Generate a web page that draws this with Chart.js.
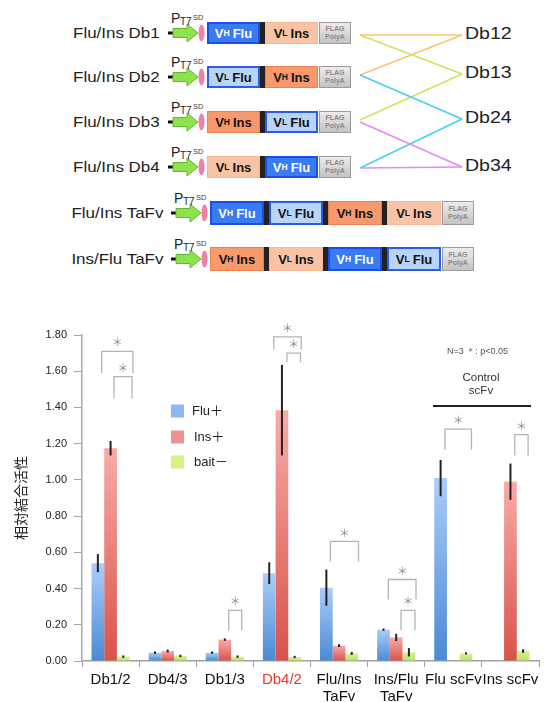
<!DOCTYPE html>
<html><head><meta charset="utf-8">
<script src="https://cdn.jsdelivr.net/npm/chart.js@4.4.1/dist/chart.umd.min.js"></script>
<style>
body{margin:0;background:#fff;}
#page{position:relative;width:547px;height:702px;overflow:hidden;font-family:"Liberation Sans",Arial,sans-serif;background:#fff;}
.abs{position:absolute;white-space:nowrap;}
.rowlbl{font-size:15px;color:#222;line-height:18px;transform:scaleX(1.13);transform-origin:right center;text-align:right;}
.dblbl{font-size:17px;color:#222;line-height:20px;transform:scaleX(1.15);transform-origin:left center;}
.seg{position:absolute;box-sizing:border-box;font-weight:bold;font-size:13px;display:flex;align-items:center;justify-content:center;line-height:1;}
.seg sub{font-size:8.5px;vertical-align:-2px;margin-right:3px;}
.flag{position:absolute;box-sizing:border-box;background:linear-gradient(#ececec,#c4c4c4);border:1.5px solid #9a9a9a;color:#8a8a8a;font-weight:bold;font-size:7px;line-height:8px;text-align:center;display:flex;align-items:center;justify-content:center;}
.note{font-size:9px;color:#555;}
.ctrl{font-size:11.5px;color:#333;text-align:center;line-height:13px;}
</style></head>
<body><div id="page">
<svg id="diag" width="547" height="290" style="position:absolute;left:0;top:0"></svg>
<canvas id="c" width="547" height="402" style="position:absolute;left:0;top:300px"></canvas>
</div>
<script>
// ---------------- chart data ----------------
const categories = ["Db1/2","Db4/3","Db1/3","Db4/2",["Flu/Ins","TaFv"],["Ins/Flu","TaFv"],"Flu scFv","Ins scFv"];
const seriesNames = ["Flu＋","Ins＋","bait－"];
const fluPlus   = [0.54, 0.046, 0.046, 0.485, 0.405, 0.173, 1.01, null];
const insPlus   = [1.175, 0.055, 0.118, 1.385, 0.085, 0.13, null, 0.99];
const baitMinus = [0.024, 0.028, 0.024, 0.022, 0.042, 0.048, 0.042, 0.055];
const fluErr    = [0.05, 0.004, 0.004, 0.06, 0.10, 0.004, 0.10, null];
const insErr    = [0.04, 0.008, 0.003, 0.25, 0.008, 0.02, null, 0.10];
const baitErr   = [0.005, 0.005, 0.004, 0.004, 0.008, 0.023, 0.006, 0.01];
const yMin = 0, yMax = 1.8, yStep = 0.2;
// significance brackets: category, from/to bar slot (0=Flu,1=Ins,2=bait), top & leg-bottom values
const sigBrackets = [
  {cat:0, from:0.30, to:2.76, top:1.71, leg:1.59},
  {cat:0, from:1.27, to:2.69, top:1.57, leg:1.45},
  {cat:2, from:1.31, to:2.33, top:0.28, leg:0.17},
  {cat:3, from:0.36, to:2.52, top:1.79, leg:1.72},
  {cat:3, from:1.39, to:2.46, top:1.70, leg:1.65},
  {cat:4, from:0.32, to:2.53, top:0.66, leg:0.55},
  {cat:5, from:0.38, to:2.56, top:0.45, leg:0.34},
  {cat:5, from:1.38, to:2.48, top:0.28, leg:0.17},
  {cat:6, from:0.34, to:2.43, top:1.28, leg:1.166},
  {cat:7, from:1.34, to:2.39, top:1.25, leg:1.134}
];

// ---------------- construct diagram ----------------
const page = document.getElementById('page');
const svg = document.getElementById('diag');
const NS = 'http://www.w3.org/2000/svg';
function sv(tag, attrs){const e=document.createElementNS(NS,tag);for(const k in attrs)e.setAttribute(k,attrs[k]);svg.appendChild(e);return e;}
function div(cls, html, style){const d=document.createElement('div');d.className=cls;d.innerHTML=html;Object.assign(d.style,style);page.appendChild(d);return d;}

const segStyle = {
  "VH Flu": {bg:"#3a7af2", bd:"2px solid #1b4ee4", fg:"#fff", v:"H", t:"Flu"},
  "VL Flu": {bg:"#b8d4f9", bd:"2px solid #2a5ce8", fg:"#111", v:"L", t:"Flu"},
  "VH Ins": {bg:"#f7996a", bd:"1px solid #ee8050", fg:"#111", v:"H", t:"Ins"},
  "VL Ins": {bg:"#f9c4a6", bd:"1px solid #f6b896", fg:"#111", v:"L", t:"Ins"}
};
const rows = [
  {name:"Flu/Ins Db1",  c:33,  dx:0, w:53, h:22, parts:["VH Flu","VL Ins"]},
  {name:"Flu/Ins Db2",  c:77,  dx:0, w:53, h:22, parts:["VL Flu","VH Ins"]},
  {name:"Flu/Ins Db3",  c:122, dx:0, w:53, h:22, parts:["VH Ins","VL Flu"]},
  {name:"Flu/Ins Db4",  c:167, dx:0, w:53, h:22, parts:["VL Ins","VH Flu"]},
  {name:"Flu/Ins TaFv", c:213, dx:3, w:54, h:24, parts:["VH Flu","VL Flu","VH Ins","VL Ins"]},
  {name:"Ins/Flu TaFv", c:259, dx:3, w:54, h:24, parts:["VH Ins","VL Ins","VH Flu","VL Flu"]}
];
rows.forEach(r=>{
  const c=r.c, d=r.dx;
  div('abs rowlbl', r.name, {right:(547-160-d)+'px', top:(c-9)+'px'});
  // promoter label
  div('abs', 'P', {left:(171+d)+'px', top:(c-23)+'px', fontSize:'14px', color:'#222', lineHeight:'16px'});
  div('abs', 'T7', {left:(180+d)+'px', top:(c-17)+'px', fontSize:'10px', color:'#222', lineHeight:'11px'});
  div('abs', 'SD', {left:(193+d)+'px', top:(c-20)+'px', fontSize:'7.5px', color:'#444', lineHeight:'9px'});
  // dash, arrow, RBS
  sv('rect',{x:168+d,y:c-1.5,width:6,height:3,fill:'#111'});
  sv('polygon',{points:`${173+d},${c-4.5} ${187+d},${c-4.5} ${187+d},${c-9} ${198+d},${c} ${187+d},${c+9} ${187+d},${c+4.5} ${173+d},${c+4.5}`,fill:'#8ee24c',stroke:'#62b832','stroke-width':1});
  sv('ellipse',{cx:201.5+d,cy:c,rx:3,ry:8.5,fill:'#ef80a8'});
  // segments
  let x = 207+d;
  r.parts.forEach((p,i)=>{
    const s=segStyle[p];
    div('seg', `V<sub>${s.v}</sub>${s.t}`, {left:x+'px', top:(c-r.h/2)+'px', width:r.w+'px', height:r.h+'px', background:s.bg, border:s.bd, color:s.fg});
    x += r.w;
    if(i<r.parts.length-1){
      div('abs','',{left:x+'px',top:(c-r.h/2)+'px',width:'5px',height:r.h+'px',background:'#222'});
      x += 5;
    }
  });
  div('flag','FLAG<br>PolyA',{left:(x+1)+'px',top:(c-r.h/2)+'px',width:'32px',height:r.h+'px'});
});
// pairing lines
const Lx=360, Rx=462;
const dbY=[35,74,119,167];
const pairLines = [
  {a:35, b:0, col:'#ffc46e'}, {a:75, b:0, col:'#ffc46e'},
  {a:35, b:1, col:'#cfe45c'}, {a:120, b:1, col:'#cfe45c'},
  {a:75, b:2, col:'#42cff8'}, {a:168, b:2, col:'#42cff8'},
  {a:122, b:3, col:'#e48af4'}, {a:168, b:3, col:'#e48af4'}
];
pairLines.forEach(l=>sv('line',{x1:Lx,y1:l.a,x2:Rx,y2:dbY[l.b],stroke:l.col,'stroke-width':1.6}));
["Db12","Db13","Db24","Db34"].forEach((t,i)=>div('abs dblbl',t,{left:'465px',top:(dbY[i]-11)+'px'}));

// annotations near chart
div('abs note','N=3 ＊: p&lt;0.05',{left:'447px',top:'345px'});
div('abs ctrl','Control<br>scFv',{left:'450px',width:'62px',top:'371px'});
div('abs','',{left:'433px',top:'405px',width:'98px',height:'1.5px',background:'#222'});

// ---------------- chart ----------------
function grad(top,bottom){
  return (ctx)=>{
    const ch=ctx.chart; if(!ch.chartArea||ctx.raw==null) return bottom;
    const y=ch.scales.y; const yt=y.getPixelForValue(ctx.raw), yb=y.getPixelForValue(0);
    if(yb-yt<2) return bottom;
    const g=ch.ctx.createLinearGradient(0,yt,0,yb); g.addColorStop(0,top); g.addColorStop(1,bottom); return g;
  };
}
const legendColors=['#8cb9f2','#f09292','#d4f47e'];
const errs=[fluErr,insErr,baitErr];

const errorBars={id:'errorBars',afterDatasetsDraw(chart){
  const c=chart.ctx, y=chart.scales.y;
  c.save(); c.strokeStyle='#222'; c.lineWidth=2;
  chart.data.datasets.forEach((ds,i)=>{
    const meta=chart.getDatasetMeta(i);
    meta.data.forEach((el,j)=>{
      const v=ds.data[j], e=errs[i][j]; if(v==null||e==null) return;
      let y1=y.getPixelForValue(v+e), y2=y.getPixelForValue(v-e);
      if(y2-y1<2){const m=(y1+y2)/2;y1=m-1.2;y2=m+1.2;}
      c.beginPath(); c.moveTo(el.x,y1); c.lineTo(el.x,y2); c.stroke();
    });
  });
  c.restore();
}};
const extras={id:'extras',afterDraw(chart){
  const c=chart.ctx, x=chart.scales.x, y=chart.scales.y;
  const meta=chart.getDatasetMeta(0);
  const barW=meta.data[0].width;
  c.save();
  // brackets
  c.strokeStyle='#b4b4b4'; c.lineWidth=1.3;
  sigBrackets.forEach(b=>{
    const cx=x.getPixelForValue(b.cat);
    const x1=cx+(b.from-1)*barW, x2=cx+(b.to-1)*barW;
    const yt=y.getPixelForValue(b.top), yl=y.getPixelForValue(b.leg);
    c.beginPath(); c.moveTo(x1,yl); c.lineTo(x1,yt); c.lineTo(x2,yt); c.lineTo(x2,yl); c.stroke();
    c.fillStyle='#8a8a8a'; c.font='11px "Noto Sans CJK JP"'; c.textAlign='center'; c.textBaseline='middle';
    c.fillText('＊',(x1+x2)/2,yt-9);
  });
  // legend
  c.font='13px "Liberation Sans", "Noto Sans CJK JP", Arial'; c.textAlign='left'; c.textBaseline='middle';
  const ly=[111,137,162];
  chart.data.datasets.forEach((ds,i)=>{
    c.fillStyle=legendColors[i]; c.fillRect(171,ly[i]-6.5,13,13);
    c.fillStyle='#222'; c.fillText(ds.label,i===0?192:194,ly[i]);
  });
  c.restore();
}};

new Chart(document.getElementById('c'),{
  type:'bar',
  data:{labels:categories,datasets:[
    {label:seriesNames[0],data:fluPlus,backgroundColor:grad('#abcdf8','#4a8ad5')},
    {label:seriesNames[1],data:insPlus,backgroundColor:grad('#f9aba8','#d8534a')},
    {label:seriesNames[2],data:baitMinus,backgroundColor:grad('#d6f58c','#b9e070')}
  ]},
  options:{
    responsive:false,animation:false,
    categoryPercentage:0.667,barPercentage:1.0,
    layout:{padding:{top:35,right:8,left:0,bottom:0}},
    plugins:{legend:{display:false},tooltip:{enabled:false}},
    scales:{
      x:{
        grid:{display:true,drawOnChartArea:false,tickLength:6,color:'#a0a0a0',offset:true},
        border:{color:'#a0a0a0',width:1.5},
        ticks:{font:{size:15,family:'"Liberation Sans", Arial',lineHeight:1.1},padding:5,maxRotation:0,autoSkip:false,
          color:(ctx)=>ctx.index===3?'#e8352a':'#111'},
        afterFit(s){s.height=41;}
      },
      y:{
        min:yMin,max:yMax,
        grid:{display:true,drawOnChartArea:false,tickLength:8,color:'#a8a8a8'},
        border:{color:'#a8a8a8',width:1.5},
        ticks:{stepSize:yStep,font:{size:11,family:'"Liberation Sans", Arial'},color:'#222',padding:7,callback:v=>Number(v).toFixed(2)},
        title:{display:true,text:'相対結合活性',font:{size:14,family:'"Noto Sans CJK JP"',lineHeight:1.2},color:'#222',padding:{top:12}},
        afterFit(s){s.width=82;}
      }
    }
  },
  plugins:[errorBars,extras]
});
</script>
</body></html>
